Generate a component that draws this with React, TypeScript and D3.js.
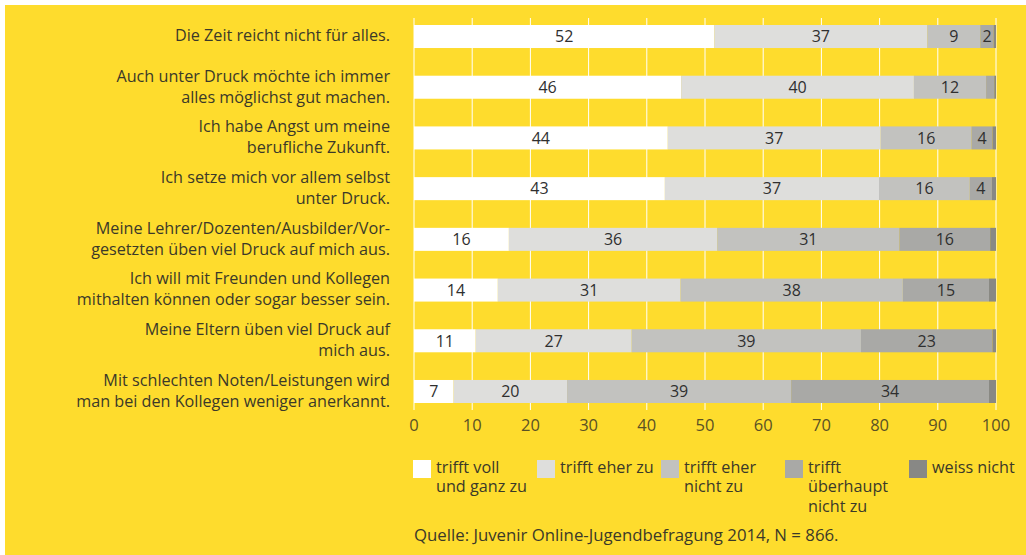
import React from "react";
import { scaleBand, scaleLinear, stack } from "d3";

const width = 1026;
const height = 555;

const statements = [
  ["Die Zeit reicht nicht für alles."],
  ["Auch unter Druck möchte ich immer", "alles möglichst gut machen."],
  ["Ich habe Angst um meine", "berufliche Zukunft."],
  ["Ich setze mich vor allem selbst", "unter Druck."],
  ["Meine Lehrer/Dozenten/Ausbilder/Vor-", "gesetzten üben viel Druck auf mich aus."],
  ["Ich will mit Freunden und Kollegen", "mithalten können oder sogar besser sein."],
  ["Meine Eltern üben viel Druck auf", "mich aus."],
  ["Mit schlechten Noten/Leistungen wird", "man bei den Kollegen weniger anerkannt."],
];

const categories = ["voll", "eher", "eherNicht", "ueberhauptNicht", "weissNicht"];
const legendLabels = [
  ["trifft voll", "und ganz zu"],
  ["trifft eher zu"],
  ["trifft eher", "nicht zu"],
  ["trifft", "überhaupt", "nicht zu"],
  ["weiss nicht"],
];
const colors = ["#ffffff", "#dededc", "#c2c2bf", "#a9a9a6", "#888885"];

const voll = [51.6, 45.9, 43.6, 43.1, 16.3, 14.4, 10.6, 6.8];
const eher = [36.6, 40.0, 36.6, 36.8, 35.8, 31.4, 26.8, 19.5];
const eherNicht = [9.1, 12.4, 15.6, 15.6, 31.3, 38.2, 39.4, 38.5];
const ueberhauptNicht = [2.3, 1.4, 3.6, 3.8, 15.6, 14.8, 22.6, 34.0];
const weissNicht = [0.4, 0.3, 0.6, 0.7, 1.0, 1.2, 0.6, 1.2];

const ticks = [0, 10, 20, 30, 40, 50, 60, 70, 80, 90, 100];
const source = "Quelle: Juvenir Online-Jugendbefragung 2014, N = 866.";

const rows = statements.map((s, i) => ({
  idx: i,
  voll: voll[i],
  eher: eher[i],
  eherNicht: eherNicht[i],
  ueberhauptNicht: ueberhauptNicht[i],
  weissNicht: weissNicht[i],
}));

const font = "'Open Sans', sans-serif";
const textColor = "#3b3929";

const App = () => {
  const x = scaleLinear().domain([0, 100]).range([414, 996]);
  const y = scaleBand<number>()
    .domain(rows.map((d) => d.idx))
    .range([25, 403])
    .paddingInner(0.546)
    .paddingOuter(0);
  const series = stack<any>().keys(categories)(rows);
  const bw = y.bandwidth();

  return (
    <svg
      width={width}
      height={height}
      style={{ position: "absolute", left: 0, top: 0 }}
      fontFamily={font}
    >
      <rect x={0} y={0} width={width} height={height} fill="#ffffff" />
      <rect x={5} y={5} width={width - 5} height={height - 5} fill="#fedc2d" />

      {/* gridlines */}
      {ticks.map((t) => (
        <line
          key={t}
          x1={x(t)}
          x2={x(t)}
          y1={18}
          y2={410}
          stroke="#ffffff"
          strokeWidth={1}
        />
      ))}

      {/* bars */}
      {series.map((s, si) =>
        s.map((d, i) => (
          <rect
            key={si + "-" + i}
            x={x(d[0])}
            y={y(i)}
            width={x(d[1]) - x(d[0])}
            height={bw}
            fill={colors[si]}
          />
        ))
      )}

      {/* value labels */}
      {series.map((s, si) =>
        si < 4
          ? s.map((d, i) => {
              const v = d[1] - d[0];
              if (v < 1.5) return null;
              return (
                <text
                  key={"l" + si + "-" + i}
                  x={(x(d[0]) + x(d[1])) / 2}
                  y={(y(i) as number) + bw / 2}
                  dy="0.36em"
                  textAnchor="middle"
                  fontSize={16}
                  fill="#2f2f2f"
                >
                  {Math.round(v)}
                </text>
              );
            })
          : null
      )}

      {/* statements */}
      {statements.map((lines, i) => {
        const cy = (y(i) as number) + bw / 2;
        const lh = 21;
        const start = cy - ((lines.length - 1) * lh) / 2 - 1;
        return (
          <text
            key={"s" + i}
            x={390}
            textAnchor="end"
            fontSize={16.2}
            fill={textColor}
          >
            {lines.map((l, j) => (
              <tspan key={j} x={390} y={start + j * lh} dy="0.36em">
                {l}
              </tspan>
            ))}
          </text>
        );
      })}

      {/* x axis labels */}
      {ticks.map((t) => (
        <text
          key={"t" + t}
          x={x(t)}
          y={425}
          dy="0.36em"
          textAnchor="middle"
          fontSize={16.5}
          fill="#5a5125"
        >
          {t}
        </text>
      ))}

      {/* legend */}
      {legendLabels.map((lines, i) => {
        const lx = 413 + i * 124;
        return (
          <g key={"lg" + i}>
            <rect x={lx} y={460} width={18} height={18} fill={colors[i]} />
            <text fontSize={16.2} fill={textColor}>
              {lines.map((l, j) => (
                <tspan key={j} x={lx + 23} y={467 + j * 19.5} dy="0.36em">
                  {l}
                </tspan>
              ))}
            </text>
          </g>
        );
      })}

      <text x={414} y={535} dy="0.36em" fontSize={16.8} fill={textColor}>
        {source}
      </text>
    </svg>
  );
};

export default App;
